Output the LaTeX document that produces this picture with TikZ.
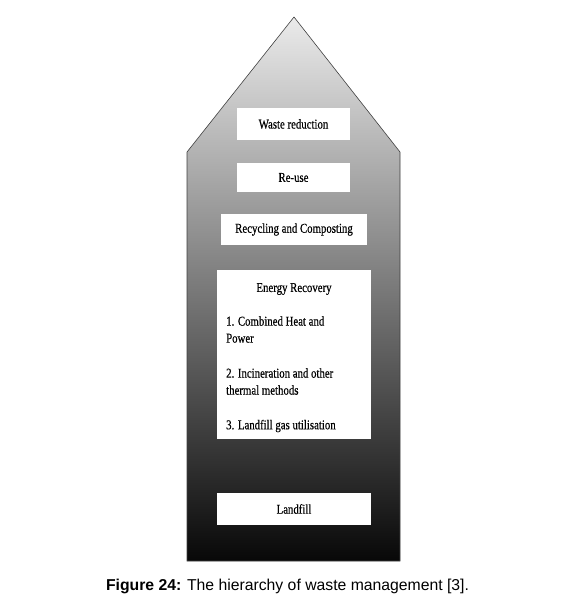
\documentclass[tikz,border=0pt]{standalone}
\usepackage{fontspec}
\setmainfont{Liberation Serif}
\newfontfamily\boxfont[FakeStretch=0.8,FakeBold=0.4]{Liberation Serif}
\newfontfamily\capfont{Liberation Sans}
\begin{document}
\begin{tikzpicture}[x=1pt,y=-1pt,
  wbox/.style={draw=none,fill=white,inner sep=0pt,font=\boxfont\fontsize{13.5}{17}\selectfont},
  btext/.style={font=\boxfont\fontsize{13.5}{17}\selectfont,inner sep=0pt},
  house/.style={draw=black!75,line width=0.6pt,top color=black!8,bottom color=black!97}]
\useasboundingbox (0,0) rectangle (571,607);
\coordinate (apex) at (294,17);
\coordinate (ls) at (187,152);
\coordinate (rs) at (400,152);
\coordinate (lb) at (187,561);
\coordinate (rb) at (400,561);
\path[house] (apex) -- (rs) -- (rb) -- (lb) -- (ls) -- cycle;
\node[wbox,minimum width=113pt,minimum height=32pt] (wr) at (293.5,124) {Waste reduction};
\node[wbox,minimum width=113pt,minimum height=29pt] (ru) at (293.5,177.5) {Re-use};
\node[wbox,minimum width=146pt,minimum height=31pt] (rc) at (294,229.5) {Recycling and Composting};
\node[wbox,minimum width=154pt,minimum height=169pt] (er) at (294,354.5) {};
\node[btext] (ert) at (294,289) {Energy Recovery};
\node[btext,anchor=west,align=left] (e1) at (226,329.5) {1. Combined Heat and\\Power};
\node[btext,anchor=west,align=left] (e2) at (226,381.5) {2. Incineration and other\\thermal methods};
\node[btext,anchor=west,align=left] (e3) at (226,426) {3. Landfill gas utilisation};
\node[wbox,minimum width=154pt,minimum height=32pt] (lf) at (294,509) {Landfill};
\node[font=\capfont\fontsize{15.75}{18}\selectfont] (cap) at (287.5,586) {\textbf{Figure 24:} The hierarchy of waste management [3].};
\end{tikzpicture}
\end{document}
